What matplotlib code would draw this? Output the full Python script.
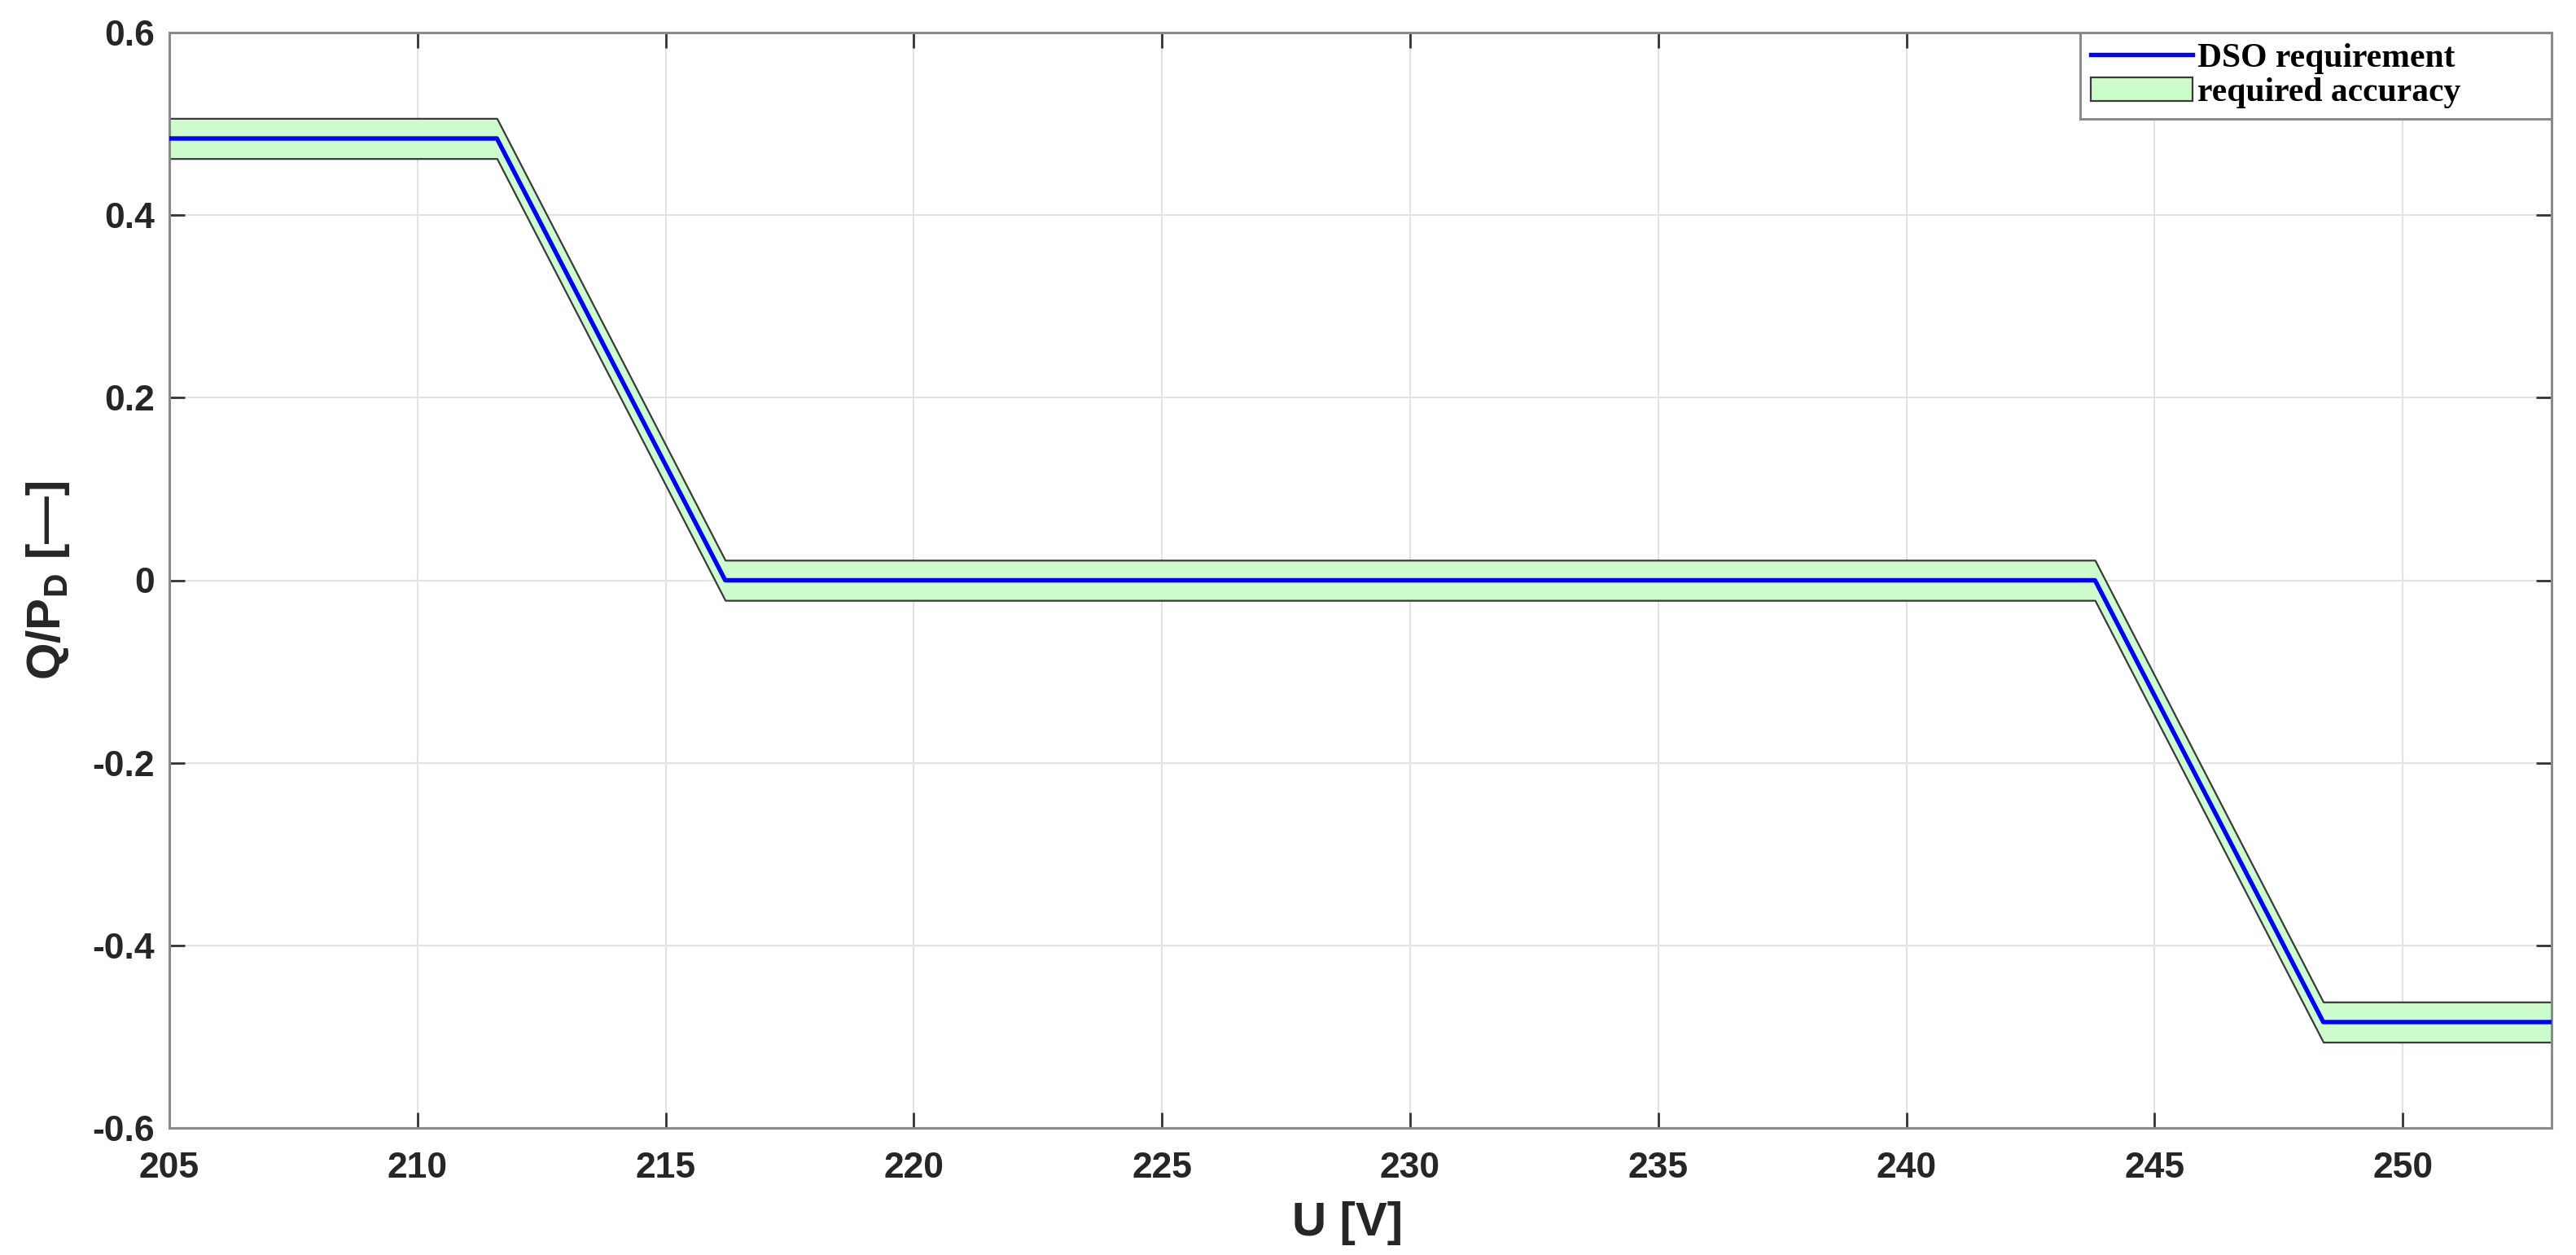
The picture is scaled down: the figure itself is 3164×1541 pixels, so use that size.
import matplotlib
matplotlib.use("Agg")
import matplotlib.pyplot as plt
import numpy as np

# Data
u_points = [205.0, 211.6, 216.2, 243.8, 248.4, 253.0]
q_points = [0.484, 0.484, 0.0, 0.0, -0.484, -0.484]
tolerance = 0.022
x_ticks = [205, 210, 215, 220, 225, 230, 235, 240, 245, 250]
y_ticks = [-0.6, -0.4, -0.2, 0, 0.2, 0.4, 0.6]
y_tick_labels = ["-0.6", "-0.4", "-0.2", "0", "0.2", "0.4", "0.6"]
series_labels = ["DSO requirement", "required accuracy"]

plt.rcParams['mathtext.fontset'] = 'custom'
plt.rcParams['mathtext.rm'] = 'Liberation Sans:bold'
plt.rcParams['mathtext.default'] = 'rm'

fig = plt.figure(figsize=(31.64, 15.41), dpi=100)
ax = fig.add_axes([208/3164, 1 - 1385/1541, (3134-208)/3164, (1385-40)/1541])

u = np.array(u_points)
q = np.array(q_points)

band = ax.fill_between(u, q - tolerance, q + tolerance, facecolor='#ccfccc',
                       edgecolor='#3a3a3a', linewidth=1.6, label=series_labels[1], zorder=2)
line, = ax.plot(u, q, color='#0000ff', linewidth=3.9, label=series_labels[0], zorder=3)

ax.set_xlim(205, 253)
ax.set_ylim(-0.6, 0.6)
ax.set_xticks(x_ticks)
ax.set_yticks(y_ticks)
ax.set_yticklabels(y_tick_labels)

ax.grid(True, color='#e3e3e3', linewidth=1.5, zorder=0)
ax.set_axisbelow(True)

for sp in ax.spines.values():
    sp.set_color('#8a8a8a')
    sp.set_linewidth(2.2)

ax.tick_params(axis='both', which='both', direction='in', length=14, width=2,
               color='#333333', top=True, right=True, labelsize=32,
               labelcolor='#262626')
ax.tick_params(axis='x', pad=21)
ax.tick_params(axis='y', pad=13)
for lbl in ax.get_xticklabels() + ax.get_yticklabels():
    lbl.set_fontfamily('Liberation Sans')
    lbl.set_fontweight('bold')

ax.set_xlabel('U [V]', fontsize=42, fontweight='bold', family='Liberation Sans',
              color='#262626', labelpad=14)
ax.xaxis.label.set_x(0.4945)
ax.set_ylabel(r'Q/P$_{\mathrm{D}}$ [—]', fontsize=42, fontweight='bold',
              family='Liberation Sans', color='#262626', labelpad=18)

leg = ax.legend(handles=[line, band], labels=series_labels, loc='upper right',
                bbox_to_anchor=((2555-208)/(3134-208), 0, 1 - (2555-208)/(3134-208), 1),
                mode='expand', borderaxespad=0, fancybox=False, framealpha=1,
                edgecolor='#8a8a8a', handlelength=3.0, handletextpad=0.15,
                labelspacing=0.1, borderpad=0.3,
                prop={'family': 'Liberation Serif', 'weight': 'bold', 'size': 30})
leg.get_frame().set_linewidth(2.2)

fig.savefig('out.png', dpi=100)
